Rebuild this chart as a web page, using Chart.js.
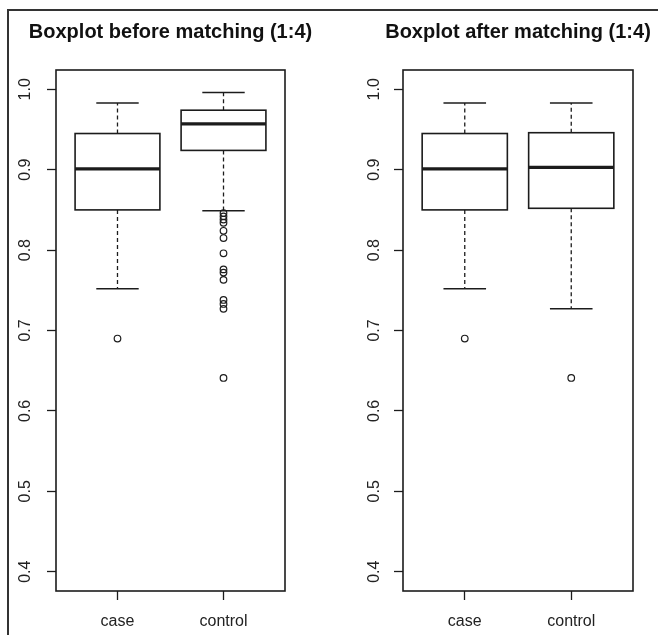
<!DOCTYPE html>
<html>
<head>
<meta charset="utf-8">
<script src="https://cdn.jsdelivr.net/npm/chart.js@4/dist/chart.umd.min.js"></script>
<style>
  html, body { margin: 0; padding: 0; background: #fff; overflow: hidden; }
  #wrap { position: relative; width: 658px; height: 635px; }
  #frame { position: absolute; left: 7px; top: 9px; width: 700px; height: 700px; border: 2px solid #333; }
  canvas { position: absolute; top: 0; }
  #left { left: 0; }
  #right { left: 329px; }
</style>
</head>
<body>
<div id="wrap">
  <div id="frame"></div>
  <canvas id="left" width="329" height="635"></canvas>
  <canvas id="right" width="329" height="635"></canvas>
</div>
<script>
const groups = ['case', 'control'];
const yTicks = [0.4, 0.5, 0.6, 0.7, 0.8, 0.9, 1.0];

// before matching: whisker low, Q1, median, Q3, whisker high
const beforeLow = [0.752, 0.849];
const beforeQ1 = [0.850, 0.924];
const beforeMedian = [0.901, 0.957];
const beforeQ3 = [0.945, 0.974];
const beforeHigh = [0.983, 0.996];
const beforeOutCase = [0.690];
const beforeOutControl = [0.846, 0.842, 0.838, 0.834, 0.824, 0.815, 0.796, 0.776, 0.772, 0.763, 0.738, 0.733, 0.727, 0.641];

// after matching
const afterLow = [0.752, 0.727];
const afterQ1 = [0.850, 0.852];
const afterMedian = [0.901, 0.903];
const afterQ3 = [0.945, 0.946];
const afterHigh = [0.983, 0.983];
const afterOutCase = [0.690];
const afterOutControl = [0.641];

const ink = '#1c1c1c';
const fontFamily = '"Liberation Sans", Arial, sans-serif';

function makeChart(id, title, stats, outCase, outControl, padRight, axisWidth, labelPad) {
    const outliers = outCase.map(v => ({x: 1, y: v})).concat(outControl.map(v => ({x: 2, y: v})));

    const boxPlugin = {
        id: 'boxes_' + id,
        afterLayout(chart) {
            // title is wider than the plot area, don't let it get squeezed
            const t = chart.titleBlock;
            t.left -= 50;
            t.right += 50;
        },
        beforeDatasetsDraw(chart) {
            const {ctx, scales: {x, y}} = chart;
            const line = (x1, y1, x2, y2) => {
                ctx.beginPath(); ctx.moveTo(x1, y1); ctx.lineTo(x2, y2); ctx.stroke();
            };
            ctx.save();
            ctx.strokeStyle = ink;
            for (let i = 0; i < groups.length; i++) {
                const c = i + 1;
                const L = x.getPixelForValue(c - 0.4), R = x.getPixelForValue(c + 0.4);
                const sl = x.getPixelForValue(c - 0.2), sr = x.getPixelForValue(c + 0.2);
                const mid = x.getPixelForValue(c);
                const pLo = y.getPixelForValue(stats.low[i]);
                const pQ1 = y.getPixelForValue(stats.q1[i]);
                const pMed = y.getPixelForValue(stats.median[i]);
                const pQ3 = y.getPixelForValue(stats.q3[i]);
                const pHi = y.getPixelForValue(stats.high[i]);

                ctx.lineWidth = 1.3;
                ctx.setLineDash([4, 3]);
                line(mid, pQ3, mid, pHi);
                line(mid, pQ1, mid, pLo);
                ctx.setLineDash([]);
                ctx.lineWidth = 1.6;
                line(sl, pHi, sr, pHi);
                line(sl, pLo, sr, pLo);
                ctx.strokeRect(L, pQ3, R - L, pQ1 - pQ3);
                ctx.lineWidth = 3.2;
                line(L, pMed, R, pMed);
            }
            ctx.restore();
        },
        afterDraw(chart) {
            const {ctx, chartArea: a} = chart;
            ctx.save();
            ctx.strokeStyle = ink;
            ctx.lineWidth = 1.6;
            ctx.strokeRect(a.left, a.top, a.right - a.left, a.bottom - a.top);
            ctx.restore();
        }
    };

    return new Chart(document.getElementById(id), {
        type: 'scatter',
        data: {
            datasets: [{
                data: outliers,
                pointStyle: 'circle',
                pointRadius: 3.3,
                pointBorderWidth: 1.2,
                pointBorderColor: ink,
                pointBackgroundColor: 'rgba(0,0,0,0)'
            }]
        },
        options: {
            responsive: false,
            animation: false,
            layout: { padding: { left: 0, right: padRight, top: 0, bottom: 0 } },
            plugins: {
                legend: { display: false },
                tooltip: { enabled: false },
                title: {
                    display: true,
                    text: title,
                    fullSize: false,
                    color: '#111',
                    font: { family: fontFamily, size: 20, weight: 'bold' },
                    padding: { top: 20, bottom: 26 }
                }
            },
            scales: {
                x: {
                    type: 'linear',
                    min: 0.42,
                    max: 2.58,
                    afterBuildTicks: s => { s.ticks = groups.map((g, i) => ({value: i + 1})); },
                    afterFit: s => { s.height = 44; },
                    border: { display: false },
                    grid: { drawOnChartArea: false, drawTicks: true, tickLength: 9, tickColor: ink, tickWidth: 1.3 },
                    ticks: {
                        color: '#222',
                        padding: 12,
                        maxRotation: 0,
                        font: { family: fontFamily, size: 16 },
                        callback: v => groups[v - 1]
                    }
                },
                y: {
                    min: 0.376,
                    max: 1.024,
                    afterBuildTicks: s => { s.ticks = yTicks.map(v => ({value: v})); },
                    afterFit: s => { s.width = axisWidth; },
                    border: { display: false },
                    grid: { drawOnChartArea: false, drawTicks: true, tickLength: 9, tickColor: ink, tickWidth: 1.3 },
                    ticks: {
                        color: '#222',
                        padding: labelPad,
                        minRotation: 90,
                        maxRotation: 90,
                        crossAlign: 'center',
                        font: { family: fontFamily, size: 16 },
                        callback: v => v.toFixed(1)
                    }
                }
            }
        },
        plugins: [boxPlugin]
    });
}

makeChart('left', 'Boxplot before matching (1:4)',
    { low: beforeLow, q1: beforeQ1, median: beforeMedian, q3: beforeQ3, high: beforeHigh },
    beforeOutCase, beforeOutControl, 44, 56, 10);

makeChart('right', 'Boxplot after matching (1:4)',
    { low: afterLow, q1: afterQ1, median: afterMedian, q3: afterQ3, high: afterHigh },
    afterOutCase, afterOutControl, 25, 74, 8);
</script>
</body>
</html>
